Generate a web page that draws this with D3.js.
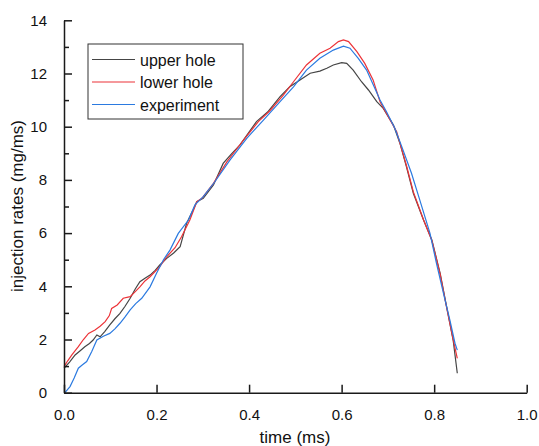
<!DOCTYPE html>
<html>
<head>
<meta charset="utf-8">
<script src="https://cdn.jsdelivr.net/npm/d3@7"></script>
<style>
  body { margin: 0; background: #fff; }
  svg { font-family: Arial, "Liberation Sans", sans-serif; }
</style>
</head>
<body>
<div id="chart"></div>
<script>
// series (time in ms, rate in mg/ms)
var upperT = [0, 0.012, 0.024, 0.035, 0.045, 0.055, 0.063, 0.071, 0.078, 0.088, 0.099, 0.11, 0.121, 0.132, 0.143, 0.154, 0.164, 0.175, 0.186, 0.197, 0.207, 0.222, 0.237, 0.251, 0.254, 0.265, 0.279, 0.287, 0.301, 0.323, 0.344, 0.362, 0.38, 0.398, 0.416, 0.44, 0.467, 0.488, 0.51, 0.532, 0.553, 0.568, 0.582, 0.6, 0.611, 0.625, 0.643, 0.658, 0.676, 0.69, 0.712, 0.726, 0.74, 0.755, 0.777, 0.795, 0.813, 0.827, 0.841, 0.85];
var upperV = [0.92, 1.15, 1.42, 1.58, 1.73, 1.85, 1.98, 2.17, 2.1, 2.3, 2.55, 2.78, 2.98, 3.25, 3.55, 3.9, 4.17, 4.3, 4.42, 4.6, 4.8, 5.05, 5.25, 5.49, 5.68, 6.37, 6.87, 7.18, 7.31, 7.81, 8.62, 8.98, 9.31, 9.75, 10.19, 10.55, 11.13, 11.5, 11.76, 12.01, 12.09, 12.2, 12.32, 12.41, 12.38, 12.13, 11.69, 11.38, 10.94, 10.69, 10.06, 9.38, 8.5, 7.5, 6.49, 5.74, 4.49, 3.23, 1.98, 0.73];

var lowerT = [0, 0.008, 0.017, 0.031, 0.042, 0.053, 0.067, 0.078, 0.089, 0.098, 0.103, 0.115, 0.128, 0.143, 0.154, 0.164, 0.175, 0.186, 0.207, 0.222, 0.24, 0.254, 0.272, 0.287, 0.298, 0.323, 0.352, 0.388, 0.42, 0.445, 0.474, 0.496, 0.524, 0.553, 0.575, 0.593, 0.604, 0.615, 0.633, 0.65, 0.668, 0.683, 0.697, 0.719, 0.726, 0.74, 0.755, 0.777, 0.795, 0.813, 0.827, 0.841, 0.85];
var lowerV = [0.98, 1.2, 1.42, 1.73, 2.0, 2.23, 2.36, 2.5, 2.67, 2.9, 3.17, 3.3, 3.55, 3.61, 3.8, 3.98, 4.2, 4.36, 4.74, 5.11, 5.45, 5.86, 6.49, 7.18, 7.31, 7.87, 8.68, 9.5, 10.19, 10.6, 11.19, 11.69, 12.32, 12.76, 12.95, 13.2, 13.26, 13.2, 12.82, 12.38, 11.76, 10.94, 10.5, 9.81, 9.38, 8.55, 7.55, 6.5, 5.72, 4.45, 3.2, 2.0, 1.29];

var expT = [0.002, 0.013, 0.022, 0.031, 0.04, 0.049, 0.06, 0.071, 0.085, 0.099, 0.11, 0.121, 0.132, 0.143, 0.155, 0.168, 0.186, 0.2, 0.215, 0.229, 0.247, 0.269, 0.283, 0.301, 0.326, 0.359, 0.395, 0.431, 0.467, 0.496, 0.524, 0.553, 0.582, 0.604, 0.618, 0.636, 0.654, 0.672, 0.683, 0.697, 0.715, 0.73, 0.751, 0.769, 0.791, 0.805, 0.82, 0.834, 0.845, 0.85];
var expV = [0, 0.23, 0.55, 0.92, 1.05, 1.17, 1.55, 1.98, 2.12, 2.23, 2.4, 2.61, 2.85, 3.11, 3.35, 3.55, 3.98, 4.49, 5.0, 5.36, 5.99, 6.49, 7.06, 7.37, 7.93, 8.75, 9.56, 10.25, 10.94, 11.5, 12.13, 12.57, 12.88, 13.03, 12.95, 12.57, 12.13, 11.44, 11.0, 10.56, 9.94, 9.25, 8.25, 7.24, 5.99, 4.86, 3.74, 2.73, 1.86, 1.6];

var seriesNames = ["upper hole", "lower hole", "experiment"];
var seriesColors = ["#454545", "#ec3338", "#2b7ae0"];
var xTicks = [0, 0.2, 0.4, 0.6, 0.8, 1.0];
var yTicks = [0, 2, 4, 6, 8, 10, 12, 14];
var yMinor = [1, 3, 5, 7, 9, 11, 13];

var width = 539, height = 446;
var x = d3.scaleLinear().domain([0, 1]).range([64, 526.7]);
var y = d3.scaleLinear().domain([0, 14]).range([392.7, 20.3]);

var svg = d3.select("#chart").append("svg")
  .attr("width", width)
  .attr("height", height);

var series = [
  {name: seriesNames[0], color: seriesColors[0], t: upperT, v: upperV},
  {name: seriesNames[1], color: seriesColors[1], t: lowerT, v: lowerV},
  {name: seriesNames[2], color: seriesColors[2], t: expT, v: expV}
];

var line = d3.line()
  .x(function(d) { return x(d[0]); })
  .y(function(d) { return y(d[1]); });

svg.append("g").selectAll("path")
  .data(series)
  .enter().append("path")
  .attr("fill", "none")
  .attr("stroke", function(d) { return d.color; })
  .attr("stroke-width", 1.2)
  .attr("d", function(d) { return line(d3.zip(d.t, d.v)); });

// axes, ticks pointing inward
var axisColor = "#1a1a1a";
var xAxis = svg.append("g")
  .attr("transform", "translate(0," + y(0) + ")")
  .call(d3.axisBottom(x).tickValues(xTicks).tickFormat(d3.format(".1f")).tickSizeInner(-8).tickSizeOuter(0).tickPadding(17));
var yAxis = svg.append("g")
  .attr("transform", "translate(" + x(0) + ",0)")
  .call(d3.axisLeft(y).tickValues(yTicks).tickFormat(d3.format("d")).tickSizeInner(-8).tickSizeOuter(0).tickPadding(17));

svg.append("g")
  .attr("transform", "translate(" + x(0) + ",0)")
  .call(d3.axisLeft(y).tickValues(yMinor).tickFormat("").tickSizeInner(-5).tickSizeOuter(0))
  .select(".domain").remove();

svg.selectAll(".domain").attr("stroke", axisColor).attr("stroke-width", 1.5);
svg.selectAll(".tick line").attr("stroke", axisColor).attr("stroke-width", 1.5);
svg.selectAll(".tick text").attr("fill", "#111").style("font-size", "15px");

// axis titles
svg.append("text")
  .attr("x", 295).attr("y", 443)
  .attr("text-anchor", "middle")
  .style("font-size", "17px")
  .attr("fill", "#111")
  .text("time (ms)");

svg.append("text")
  .attr("transform", "translate(23,206) rotate(-90)")
  .attr("text-anchor", "middle")
  .style("font-size", "17px")
  .attr("fill", "#111")
  .text("injection rates (mg/ms)");

// legend
var legend = svg.append("g").attr("transform", "translate(88,44)");
legend.append("rect")
  .attr("width", 155).attr("height", 75)
  .attr("fill", "#fff")
  .attr("stroke", "#333")
  .attr("stroke-width", 1);

var item = legend.selectAll("g.item")
  .data(series)
  .enter().append("g")
  .attr("class", "item")
  .attr("transform", function(d, i) { return "translate(0," + (15.5 + i * 22.5) + ")"; });

item.append("line")
  .attr("x1", 4).attr("x2", 47)
  .attr("stroke", function(d) { return d.color; })
  .attr("stroke-width", 1.2);

item.append("text")
  .attr("x", 52).attr("y", 6)
  .style("font-size", "16px")
  .attr("fill", "#111")
  .text(function(d) { return d.name; });
</script>
</body>
</html>
